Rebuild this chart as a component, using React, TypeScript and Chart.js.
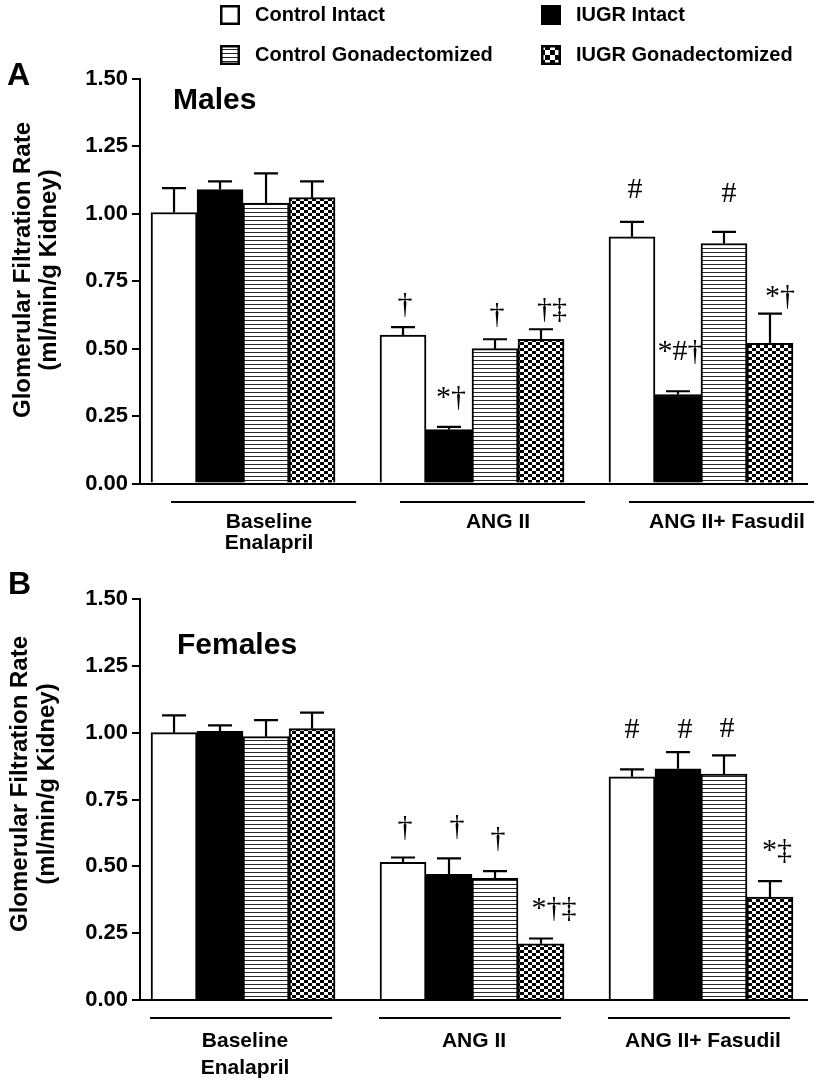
import React, { useEffect, useRef } from 'react';
import { Chart, registerables } from 'chart.js';

Chart.register(...registerables);

// ---------------- data ----------------
const categoryLines: string[][] = [['Baseline', 'Enalapril'], ['ANG II'], ['ANG II+ Fasudil']];
const seriesNames = ['Control Intact', 'IUGR Intact', 'Control Gonadectomized', 'IUGR Gonadectomized'];
const yTickValues = [0, 0.25, 0.5, 0.75, 1.0, 1.25, 1.5];
const yTitleLines = ['Glomerular Filtration Rate', '(ml/min/g Kidney)'];

// Males (panel A)
const maleControlIntact = [1.005, 0.55, 0.915];
const maleIugrIntact = [1.09, 0.2, 0.33];
const maleControlGonad = [1.04, 0.5, 0.89];
const maleIugrGonad = [1.06, 0.535, 0.52];
const maleControlIntactErr = [0.09, 0.03, 0.055];
const maleIugrIntactErr = [0.03, 0.01, 0.012];
const maleControlGonadErr = [0.11, 0.035, 0.043];
const maleIugrGonadErr = [0.06, 0.037, 0.11];
const maleControlIntactMarks = ['', '†', '#'];
const maleIugrIntactMarks = ['', '*†', '*#†'];
const maleControlGonadMarks = ['', '†', '#'];
const maleIugrGonadMarks = ['', '†‡', '*†'];

// Females (panel B)
const femaleControlIntact = [1.0, 0.515, 0.835];
const femaleIugrIntact = [1.005, 0.47, 0.865];
const femaleControlGonad = [0.985, 0.455, 0.845];
const femaleIugrGonad = [1.015, 0.21, 0.385];
const femaleControlIntactErr = [0.065, 0.018, 0.028];
const femaleIugrIntactErr = [0.022, 0.06, 0.062];
const femaleControlGonadErr = [0.062, 0.027, 0.07];
const femaleIugrGonadErr = [0.06, 0.02, 0.06];
const femaleControlIntactMarks = ['', '†', '#'];
const femaleIugrIntactMarks = ['', '†', '#'];
const femaleControlGonadMarks = ['', '†', '#'];
const femaleIugrGonadMarks = ['', '*†‡', '*‡'];

// ---------------- layout / style ----------------
const SANS = "'Liberation Sans', Arial, Helvetica, sans-serif";
const SERIF = "'Liberation Serif', 'Times New Roman', serif";

const layoutA = {
  height: 560,
  top: 79,
  axisH: 76.5,
  letter: { x: 7, y: 76 },
  title: { x: 173, y: 101 },
  yTitle: { x1: 23, x2: 49, y: 270 },
  groupLine: { y: 502, from: -72, to: 113 },
  labelDx: 26,
  labelY: [522, 543],
  markOffsets: [
    [[0, 0], [2, -14], [3, -24]],
    [[0, 0], [2, -21], [2, -31]],
    [[0, 0], [2, -16], [5, -30]],
    [[0, 0], [11, -11], [10, -9]],
  ],
  legend: true,
};

const layoutB = {
  height: 525,
  top: 39,
  axisH: 85,
  letter: { x: 8, y: 25 },
  title: { x: 177, y: 86 },
  yTitle: { x1: 20, x2: 47, y: 224 },
  groupLine: { y: 458, from: -93, to: 89 },
  labelDx: 2,
  labelY: [481, 508],
  markOffsets: [
    [[0, 0], [2, -22], [0, -31]],
    [[0, 0], [8, -23], [7, -14]],
    [[0, 0], [3, -24], [3, -18]],
    [[0, 0], [13, -22], [7, -22]],
  ],
  legend: false,
};

const panels = [
  {
    key: 'A',
    letter: 'A',
    title: 'Males',
    values: [maleControlIntact, maleIugrIntact, maleControlGonad, maleIugrGonad],
    errors: [maleControlIntactErr, maleIugrIntactErr, maleControlGonadErr, maleIugrGonadErr],
    marks: [maleControlIntactMarks, maleIugrIntactMarks, maleControlGonadMarks, maleIugrGonadMarks],
    layout: layoutA,
  },
  {
    key: 'B',
    letter: 'B',
    title: 'Females',
    values: [femaleControlIntact, femaleIugrIntact, femaleControlGonad, femaleIugrGonad],
    errors: [femaleControlIntactErr, femaleIugrIntactErr, femaleControlGonadErr, femaleIugrGonadErr],
    marks: [femaleControlIntactMarks, femaleIugrIntactMarks, femaleControlGonadMarks, femaleIugrGonadMarks],
    layout: layoutB,
  },
];

// ---------------- patterns ----------------
function makePattern(w: number, h: number, draw: (c: CanvasRenderingContext2D) => void) {
  const cv = document.createElement('canvas');
  cv.width = w;
  cv.height = h;
  const c = cv.getContext('2d')!;
  c.fillStyle = '#fff';
  c.fillRect(0, 0, w, h);
  draw(c);
  const ctx = document.createElement('canvas').getContext('2d')!;
  return ctx.createPattern(cv, 'repeat')!;
}

function makePatterns() {
  const hatch = makePattern(8, 4, (c) => {
    c.fillStyle = '#2a2a2a';
    c.fillRect(0, 0, 8, 1);
  });
  const checker = makePattern(8, 6, (c) => {
    c.fillStyle = '#000';
    c.fillRect(0, 0, 4, 3);
    c.fillRect(4, 3, 4, 3);
  });
  const hatchLegend = makePattern(8, 4, (c) => {
    c.fillStyle = '#222';
    c.fillRect(0, 1, 8, 1);
  });
  const checkerLegend = makePattern(10, 10, (c) => {
    c.fillStyle = '#000';
    c.fillRect(0, 0, 5, 5);
    c.fillRect(5, 5, 5, 5);
  });
  return { hatch, checker, hatchLegend, checkerLegend };
}

function drawText(
  ctx: CanvasRenderingContext2D,
  text: string,
  x: number,
  y: number,
  font: string,
  align: CanvasTextAlign,
  baseline: CanvasTextBaseline = 'middle',
  rotate = 0
) {
  ctx.save();
  ctx.font = font;
  ctx.fillStyle = '#000';
  ctx.textAlign = align;
  ctx.textBaseline = baseline;
  ctx.translate(x, y);
  if (rotate) ctx.rotate(rotate);
  ctx.fillText(text, 0, 0);
  ctx.restore();
}

function PanelChart({ panel }: { panel: (typeof panels)[number] }) {
  const ref = useRef<HTMLCanvasElement | null>(null);

  useEffect(() => {
    const canvas = ref.current;
    if (!canvas) return;
    const pats = makePatterns();
    const fills = ['#ffffff', '#000000', pats.hatch, pats.checker];
    const legendFills = ['#ffffff', '#000000', pats.hatchLegend, pats.checkerLegend];
    const L = panel.layout;

    const decor = {
      id: 'decor',
      beforeDatasetsDraw(chart: any) {
        const ctx = chart.ctx as CanvasRenderingContext2D;
        const y = chart.scales.y;
        panel.marks.forEach((arr, s) => {
          arr.forEach((txt, g) => {
            if (!txt) return;
            const el = chart.getDatasetMeta(s).data[g];
            const top = y.getPixelForValue(panel.values[s][g] + panel.errors[s][g]);
            const [dx, dy] = L.markOffsets[s][g];
            drawText(ctx, txt, el.x + dx, top + dy, `30px ${SERIF}`, 'center', 'alphabetic');
          });
        });
      },
      afterDatasetsDraw(chart: any) {
        const ctx = chart.ctx as CanvasRenderingContext2D;
        const y = chart.scales.y;
        ctx.save();
        ctx.strokeStyle = '#000';
        ctx.lineWidth = 2.2;
        panel.values.forEach((vals, s) => {
          vals.forEach((v, g) => {
            const el = chart.getDatasetMeta(s).data[g];
            const yb = y.getPixelForValue(v);
            const yt = y.getPixelForValue(v + panel.errors[s][g]);
            ctx.beginPath();
            ctx.moveTo(el.x, yb);
            ctx.lineTo(el.x, yt);
            ctx.moveTo(el.x - 12, yt);
            ctx.lineTo(el.x + 12, yt);
            ctx.stroke();
          });
        });
        ctx.restore();
      },
      afterDraw(chart: any) {
        const ctx = chart.ctx as CanvasRenderingContext2D;
        const x = chart.scales.x;
        drawText(ctx, panel.letter, L.letter.x, L.letter.y, `bold 32px ${SANS}`, 'left');
        drawText(ctx, panel.title, L.title.x, L.title.y, `bold 30px ${SANS}`, 'left');
        drawText(ctx, yTitleLines[0], L.yTitle.x1, L.yTitle.y, `bold 24px ${SANS}`, 'center', 'middle', -Math.PI / 2);
        drawText(ctx, yTitleLines[1], L.yTitle.x2, L.yTitle.y, `bold 24px ${SANS}`, 'center', 'middle', -Math.PI / 2);
        ctx.save();
        ctx.strokeStyle = '#000';
        ctx.lineWidth = 2;
        categoryLines.forEach((lines, g) => {
          const cx = x.getPixelForValue(g);
          ctx.beginPath();
          ctx.moveTo(cx + L.groupLine.from, L.groupLine.y);
          ctx.lineTo(cx + L.groupLine.to, L.groupLine.y);
          ctx.stroke();
          lines.forEach((t, k) => {
            drawText(ctx, t, cx + L.labelDx, L.labelY[k], `bold 21px ${SANS}`, 'center');
          });
        });
        ctx.restore();
        if (L.legend) {
          const cols = [220, 541];
          const rows = [15, 55];
          seriesNames.forEach((name, i) => {
            const sx = cols[i % 2];
            const sy = rows[Math.floor(i / 2)];
            ctx.save();
            ctx.fillStyle = legendFills[i] as any;
            ctx.fillRect(sx, sy - 10, 20, 20);
            ctx.strokeStyle = '#000';
            ctx.lineWidth = 2.5;
            ctx.strokeRect(sx + 1.25, sy - 10 + 1.25, 17.5, 17.5);
            ctx.restore();
            drawText(ctx, name, sx + 35, sy, `bold 20px ${SANS}`, 'left');
          });
        }
      },
    };

    const chart = new Chart(canvas, {
      type: 'bar',
      data: {
        datasets: panel.values.map((vals, s) => ({
          label: seriesNames[s],
          data: vals.map((v, i) => ({ x: i, y: v })),
          backgroundColor: fills[s] as any,
          borderColor: '#000',
          borderWidth: 2,
          barThickness: 46,
        })),
      },
      options: {
        responsive: false,
        animation: false,
        events: [],
        layout: { padding: { left: 0, right: 12, top: L.top, bottom: 0 } },
        plugins: { legend: { display: false }, tooltip: { enabled: false }, title: { display: false } },
        scales: {
          x: {
            type: 'linear',
            min: -0.45,
            max: 2.463,
            bounds: 'data',
            offset: false,
            ticks: { display: false, stepSize: 1, includeBounds: false },
            grid: { display: false },
            border: { display: true, color: '#000', width: 2 },
            afterFit: (scale: any) => {
              scale.height = L.axisH;
            },
          },
          y: {
            type: 'linear',
            min: yTickValues[0],
            max: yTickValues[yTickValues.length - 1],
            afterBuildTicks: (scale: any) => {
              scale.ticks = yTickValues.map((v) => ({ value: v }));
            },
            ticks: {
              color: '#000',
              padding: 4,
              autoSkip: false,
              font: { family: SANS, size: 22, weight: 'bold' },
              callback: (v: any) => Number(v).toFixed(2),
            },
            grid: {
              display: true,
              drawOnChartArea: false,
              drawTicks: true,
              tickLength: 8,
              color: '#000',
              lineWidth: 2,
            },
            border: { display: true, color: '#000', width: 2 },
            afterFit: (scale: any) => {
              scale.width = 140;
            },
          },
        },
      } as any,
      plugins: [decor],
    });
    return () => chart.destroy();
  }, [panel]);

  return <canvas ref={ref} width={819} height={panel.layout.height} style={{ display: 'block' }} />;
}

export default function App() {
  useEffect(() => {
    document.body.style.margin = '0';
    document.body.style.background = '#fff';
  }, []);
  return (
    <div style={{ width: 819, background: '#fff' }}>
      {panels.map((p) => (
        <PanelChart key={p.key} panel={p} />
      ))}
    </div>
  );
}
